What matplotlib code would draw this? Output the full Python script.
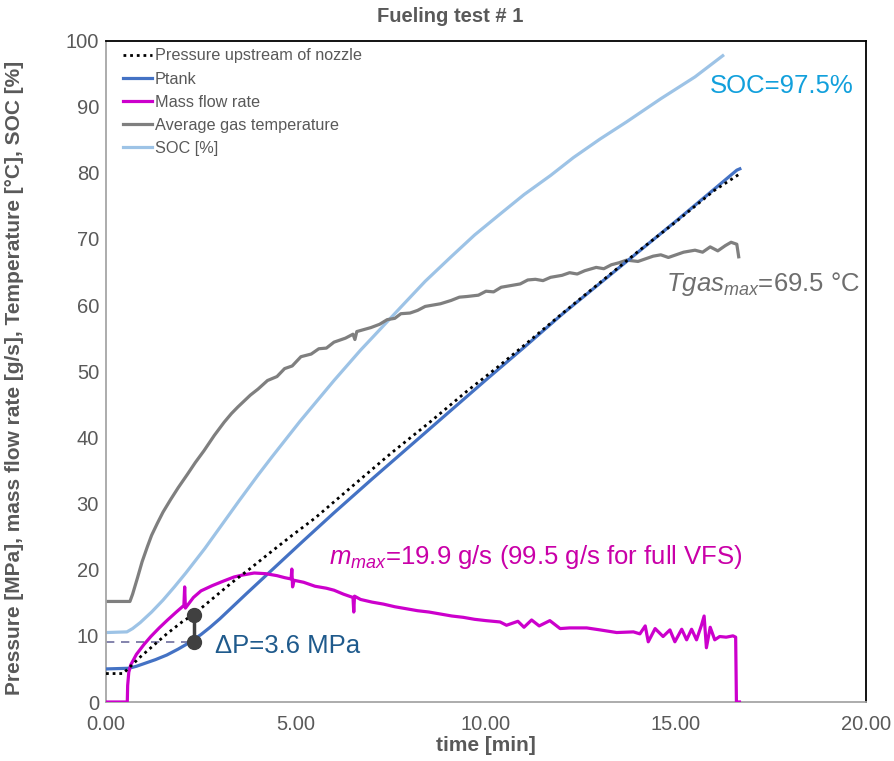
import matplotlib
matplotlib.use("Agg")
import matplotlib.pyplot as plt
from matplotlib.lines import Line2D

plt.rcParams['font.family'] = ['Liberation Sans', 'DejaVu Sans']
plt.rcParams['mathtext.fontset'] = 'custom'
plt.rcParams['mathtext.rm'] = 'Liberation Sans'
plt.rcParams['mathtext.it'] = 'Liberation Sans:italic'
plt.rcParams['mathtext.bf'] = 'Liberation Sans:bold'

# ---------------- data ----------------
title = "Fueling test # 1"
x_label = "time [min]"
y_label = "Pressure [MPa], mass flow rate [g/s], Temperature [°C], SOC [%]"
x_ticks = [0, 5, 10, 15, 20]
x_tick_labels = ["0.00", "5.00", "10.00", "15.00", "20.00"]
y_ticks = [0, 10, 20, 30, 40, 50, 60, 70, 80, 90, 100]

series_names = ["Pressure upstream of nozzle", "Ptank", "Mass flow rate",
                "Average gas temperature", "SOC [%]"]

p_up_t = [0, 0.45, 0.63, 0.9, 1.2, 1.6, 2.0, 2.32, 2.8, 3.3, 3.8, 4.3, 4.9, 5.5,
          6.6, 7.5, 8.5, 9.5, 10.3, 11.0, 12.0, 13.0, 14.0, 15.0, 16.0, 16.64]
p_up_v = [4.3, 4.3, 5.3, 6.8, 8.3, 10.3, 12.1, 13.3, 15.6, 18.0, 20.2, 22.5, 25.2, 27.8,
          33.2, 37.6, 42.2, 47.0, 50.6, 53.9, 58.7, 63.4, 68.1, 72.6, 77.3, 79.7]

ptank_t = [0, 0.6, 0.8, 1.0, 1.3, 1.6, 1.9, 2.2, 2.5, 2.74, 3.0, 3.35, 3.7, 4.0, 4.3, 4.6,
           5.2, 6.0, 7.0, 8.0, 9.0, 10.0, 11.0, 12.0, 13.0, 14.0, 15.0, 16.0, 16.6, 16.68]
ptank_v = [5.0, 5.1, 5.4, 5.8, 6.4, 7.1, 8.0, 9.0, 10.2, 11.3, 12.6, 14.5, 16.4, 18.0, 19.6, 21.2,
           24.4, 28.6, 33.7, 38.7, 43.7, 48.7, 53.6, 58.6, 63.3, 68.0, 72.7, 77.5, 80.4, 80.6]

mdot_t = [0, 0.56, 0.57, 0.6, 0.65, 0.8, 1.0, 1.18, 1.4, 1.62, 1.85, 2.05, 2.07, 2.09,
          2.3, 2.5, 2.8, 3.1, 3.37, 3.6, 3.9, 4.2, 4.5, 4.7, 4.87, 4.89, 4.91, 4.95,
          5.2, 5.5, 5.8, 6.0, 6.25, 6.5, 6.52, 6.54, 6.7, 7.0, 7.3, 7.6, 7.9, 8.2, 8.5,
          8.8, 9.1, 9.4, 9.7, 10.0, 10.37, 10.54, 10.84, 11.0, 11.2, 11.4, 11.68, 11.95,
          12.2, 12.65, 13.0, 13.44, 13.88, 14.05, 14.19, 14.27, 14.45, 14.66, 14.84,
          14.97, 15.15, 15.28, 15.41, 15.54, 15.67, 15.74, 15.8, 15.9, 16.02, 16.15,
          16.32, 16.5, 16.57, 16.59, 16.67]
mdot_v = [0, 0, 2.5, 4.5, 5.6, 7.2, 8.7, 9.9, 11.2, 12.4, 13.6, 14.6, 17.4, 14.2,
          15.8, 16.8, 17.6, 18.3, 18.9, 19.2, 19.5, 19.4, 19.1, 18.8, 18.6, 20.1, 17.4, 18.4,
          18.1, 17.5, 17.2, 16.9, 16.3, 15.8, 13.6, 16.0, 15.5, 15.1, 14.8, 14.4, 14.1, 13.8, 13.6,
          13.3, 13.0, 12.8, 12.5, 12.3, 12.1, 11.6, 12.2, 11.3, 12.4, 11.5, 12.3, 11.1,
          11.2, 11.2, 10.9, 10.5, 10.6, 10.3, 11.5, 9.1, 11.1, 9.9, 10.9,
          9.1, 11.0, 9.4, 11.0, 9.4, 11.6, 13.0, 8.2, 11.3, 9.4, 9.9,
          9.8, 10.0, 9.8, 0, 0]

tgas_t = [0, 0.63, 0.7, 0.83, 0.95, 1.09, 1.2, 1.35, 1.5, 1.7, 1.9, 2.14, 2.35, 2.58, 2.85,
          3.11, 3.3, 3.47, 3.8, 4.0, 4.25,
          4.5, 4.7, 4.9, 5.13, 5.4, 5.6, 5.8, 6.0, 6.3, 6.5, 6.55, 6.6, 6.97, 7.2, 7.4,
          7.6, 7.76, 8.0, 8.2, 8.4, 8.6, 8.8, 9.08, 9.3, 9.5, 9.8, 10.0, 10.2, 10.4, 10.6,
          10.9, 11.1, 11.3, 11.5, 11.7, 12.0, 12.2, 12.4, 12.6, 12.9, 13.1, 13.3, 13.5,
          13.7, 14.0, 14.2, 14.4, 14.6, 14.8, 15.0, 15.2, 15.5, 15.7, 15.9, 16.1, 16.3,
          16.45, 16.6, 16.65]
tgas_v = [15.2, 15.2, 16.3, 18.8, 21.2, 23.5, 25.2, 27.0, 28.7, 30.6, 32.4, 34.4, 36.2, 38.0, 40.3,
          42.3, 43.6, 44.6, 46.4, 47.3, 48.6,
          49.2, 50.4, 50.8, 52.2, 52.6, 53.4, 53.5, 54.4, 55.0, 55.6, 54.8, 56.0, 56.6, 57.1, 57.8,
          58.0, 58.7, 58.8, 59.2, 59.8, 60.0, 60.2, 60.7, 61.2, 61.3, 61.5, 62.1, 62.0, 62.7, 62.9,
          63.2, 63.8, 63.9, 63.7, 64.2, 64.5, 64.9, 64.7, 65.2, 65.7, 65.5, 66.1, 66.4,
          66.8, 66.6, 67.0, 67.4, 67.6, 67.2, 67.6, 68.0, 68.3, 68.0, 68.8, 68.2, 69.0,
          69.5, 69.2, 67.3]

soc_t = [0, 0.55, 0.7, 0.9, 1.2, 1.5, 1.8, 2.1, 2.6, 3.0, 3.5, 4.0, 4.36, 5.1, 6.0, 6.7,
         7.06, 7.76, 8.4, 9.08, 9.7, 10.4, 11.0, 11.7, 12.3, 13.0, 13.7, 14.6, 15.5, 16.23]
soc_v = [10.5, 10.6, 11.1, 12.0, 13.6, 15.4, 17.4, 19.5, 23.2, 26.4, 30.4, 34.3, 37.0, 42.4, 48.6, 53.2,
         55.4, 59.7, 63.6, 67.3, 70.6, 73.9, 76.7, 79.6, 82.3, 85.1, 87.7, 91.2, 94.5, 97.7]

dp_t = 2.32
dp_low, dp_high = 9.1, 13.1

# ---------------- styling ----------------
c_soc = '#9DC3E6'
c_ptank = '#4472C4'
c_mdot = '#CC00CC'
c_tgas = '#7F7F7F'
c_txt = '#595959'

fig = plt.figure(figsize=(8.94, 7.61), dpi=100)
ax = fig.add_axes([106/894, 1 - 702/761, 760/894, 661.5/761])

lw = 2.3
ax.plot(soc_t, soc_v, color=c_soc, lw=lw, zorder=2)
ax.plot(tgas_t, tgas_v, color=c_tgas, lw=lw, zorder=2)
ax.plot(ptank_t, ptank_v, color=c_ptank, lw=lw, zorder=3)
ax.plot(mdot_t, mdot_v, color=c_mdot, lw=lw, zorder=3)
ax.plot(p_up_t, p_up_v, color='black', lw=2.0, linestyle=(0, (1, 1.4)), zorder=4)

# delta P annotation
ax.plot([0, dp_t - 0.2], [dp_low, dp_low], color='#6E6E9E', lw=1.2, linestyle=(0, (5, 4)), zorder=1)
ax.plot([dp_t, dp_t], [dp_low, dp_high], color='#404040', lw=2.5, zorder=5)
ax.plot([dp_t, dp_t], [dp_low, dp_high], 'o', color='#404040', ms=10, zorder=6)

ax.set_xlim(0, 20)
ax.set_ylim(0, 100)
ax.set_xticks(x_ticks)
ax.set_xticklabels(x_tick_labels)
ax.set_yticks(y_ticks)
ax.tick_params(length=0, labelsize=14.5, labelcolor=c_txt)
ax.tick_params(axis='x', pad=9)
ax.tick_params(axis='y', pad=5)

for s in ['left', 'bottom']:
    ax.spines[s].set_color('#A6A6A6')
    ax.spines[s].set_linewidth(1.3)
for s in ['top', 'right']:
    ax.spines[s].set_color('black')
    ax.spines[s].set_linewidth(1.3)

ax.set_xlabel(x_label, fontsize=15, fontweight='bold', color=c_txt)
ax.xaxis.set_label_coords(0.5, -0.052)
ax.set_ylabel(y_label, fontsize=15, fontweight='bold', color=c_txt)
ax.yaxis.set_label_coords(-0.108, 0.49)
fig.text(450/894, 1 - 16/761, title, ha='center', va='center', fontsize=14.5,
         fontweight='bold', color=c_txt)

handles = [
    Line2D([], [], color='black', lw=2.0, linestyle=(0, (1, 1.4))),
    Line2D([], [], color=c_ptank, lw=lw),
    Line2D([], [], color=c_mdot, lw=lw),
    Line2D([], [], color=c_tgas, lw=lw),
    Line2D([], [], color=c_soc, lw=lw),
]
leg = ax.legend(handles, series_names, loc='upper left', bbox_to_anchor=(0.0224, 0.988),
                frameon=False, borderpad=0, borderaxespad=0, handlelength=1.8,
                handletextpad=0.15, labelspacing=0.5, fontsize=11.7)
for t in leg.get_texts():
    t.set_color(c_txt)

# annotations
fs = 18.5
ax.text(15.9, 92.1, "SOC=97.5%", color='#12A0DC', fontsize=fs, va='baseline', ha='left')
ax.text(14.75, 62.2, r"$\mathit{Tgas}_{\mathit{max}}$=69.5 °C", color='#6E6E6E', fontsize=fs,
        va='baseline', ha='left')
ax.text(2.87, 7.45, "ΔP=3.6 MPa", color='#1F5A8C', fontsize=fs, va='baseline', ha='left')
ax.text(5.88, 20.9, r"$\mathit{m}_{\mathit{max}}$=19.9 g/s (99.5 g/s for full VFS)",
        color='#C900A8', fontsize=fs, va='baseline', ha='left')

fig.savefig("out.png", dpi=100)
